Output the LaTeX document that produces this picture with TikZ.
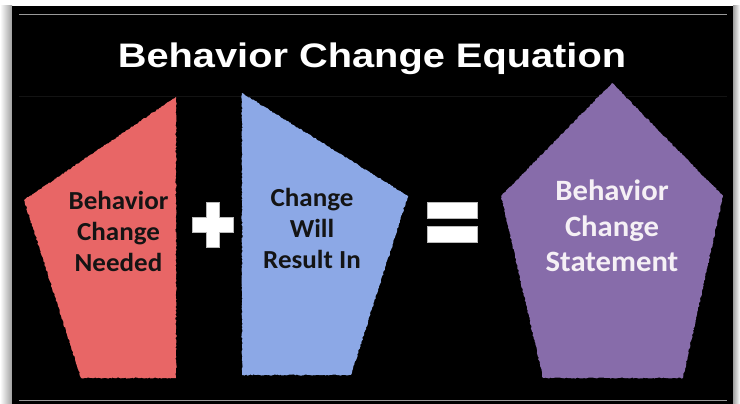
\documentclass[tikz,border=0pt]{standalone}
\usepackage{fontspec}
\setmainfont{Carlito}
\newfontfamily\titlefont[FakeStretch=1.17]{Liberation Sans}
\newfontfamily\partfont[FakeStretch=1.04]{Carlito}
\definecolor{PartRed}{HTML}{E86666}
\definecolor{PartBlue}{HTML}{8CA8E6}
\definecolor{PartPurple}{HTML}{876CAA}
\definecolor{FrameGray}{HTML}{9A9A9A}
\definecolor{DarkText}{HTML}{141414}
\definecolor{LightText}{HTML}{F5F0F5}
\usetikzlibrary{decorations.pathmorphing}
\tikzset{
  % Shape styles
  tornedge/.style={decorate, decoration={random steps, segment length=1.5pt, amplitude=0.6pt}},
  redpart/.style={tornedge, fill=PartRed},
  bluepart/.style={tornedge, fill=PartBlue},
  purplepart/.style={tornedge, fill=PartPurple},
  signbox/.style={fill=white, draw=gray!55, line width=0.6pt},
  % Text styles
  titletext/.style={font=\titlefont\bfseries\fontsize{34}{38}\selectfont, text=white},
  parttext/.style={font=\partfont\bfseries\fontsize{26}{31}\selectfont, text=DarkText, align=center},
  resulttext/.style={font=\partfont\bfseries\fontsize{29.5}{35.5}\selectfont, text=LightText, align=center}
}
\begin{document}
\begin{tikzpicture}[x=1pt, y=-1pt]
  \pgfmathsetseed{7}
  \useasboundingbox (0,0) rectangle (740,404);
  % Frame
  \fill[white] (0,0) rectangle (740,404);
  \shade[left color=white, right color=gray!75] (0,6) rectangle (12,404);
  \shade[left color=gray!75, right color=white] (733,6) rectangle (740,404);
  \fill[black] (12,6) rectangle (733,404);
  \draw[FrameGray, line width=1pt] (19,15) -- (727,15);
  \draw[gray!15!black, line width=0.8pt] (19,96) -- (727,96);
  \draw[FrameGray, line width=1pt] (19,400) -- (727,400);

  % Title
  \node[titletext, anchor=base] (title) at (372,68) {Behavior Change Equation};

  % Left part
  \fill[redpart] (176,97) -- (176,378) -- (81,378) -- (24,200) -- cycle;
  \node[parttext] (needed) at (118.5,231) {Behavior\\Change\\Needed};

  % Plus
  \draw[signbox] (206,202) -- (219,202) -- (219,217) -- (233,217) -- (233,232)
    -- (219,232) -- (219,247) -- (206,247) -- (206,232) -- (192,232)
    -- (192,217) -- (206,217) -- cycle;

  % Right part
  \fill[bluepart] (242,93) -- (408,196) -- (351,375) -- (242,375) -- cycle;
  \node[parttext] (result) at (312,228) {Change\\Will\\Result In};

  % Equals
  \draw[signbox] (427,202) rectangle (477,218);
  \draw[signbox] (427,226) rectangle (477,242);

  % Result
  \fill[purplepart] (612,83) -- (723,196) -- (683,378) -- (543,378) -- (501,196) -- cycle;
  \node[resulttext] (statement) at (612,226) {Behavior\\Change\\Statement};
\end{tikzpicture}
\end{document}
